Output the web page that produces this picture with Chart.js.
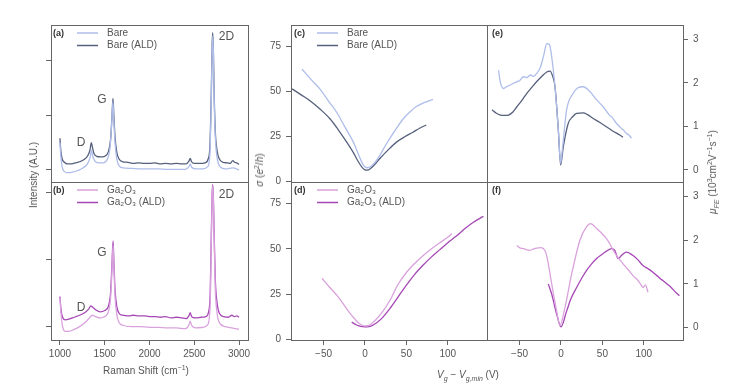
<!DOCTYPE html>
<html><head><meta charset="utf-8">
<script src="https://cdn.jsdelivr.net/npm/chart.js@4.4.1/dist/chart.umd.min.js"></script>
<style>
html,body{margin:0;padding:0;background:#fff;}
#wrap{position:relative;width:748px;height:386px;overflow:hidden;font-family:"Liberation Sans",Arial,sans-serif;color:#555;}
canvas{position:absolute;left:0;top:0;}
.lbl{position:absolute;font-size:10px;white-space:nowrap;color:#555;line-height:12px;}
.rot{transform:translate(-50%,-50%) rotate(-90deg);}
.ctr{transform:translate(-50%,-50%);}
sub,sup{font-size:7px;line-height:0;}
</style></head>
<body><div id="wrap">
<canvas id="pa" width="748" height="386"></canvas>
<canvas id="pb" width="748" height="386"></canvas>
<canvas id="pc" width="748" height="386"></canvas>
<canvas id="pd" width="748" height="386"></canvas>
<canvas id="pe" width="748" height="386"></canvas>
<canvas id="pf" width="748" height="386"></canvas>
<div class="lbl rot" style="left:34px;top:175px">Intensity (A.U.)</div>
<div class="lbl ctr" style="left:146px;top:371px">Raman Shift (cm<sup>−1</sup>)</div>
<div class="lbl rot" style="left:260px;top:170px"><i>σ</i> (<i>e</i><sup>2</sup>/<i>h</i>)</div>
<div class="lbl rot" style="left:713px;top:172px"><i>μ<sub>FE</sub></i> (10<sup>3</sup>cm<sup>2</sup>V<sup>−1</sup>s<sup>−1</sup>)</div>
<div class="lbl ctr" style="left:468px;top:375px"><i>V<sub>g</sub></i> − <i>V<sub>g,min</sub></i> (V)</div>
</div>
<script>
// ---------- tick labels ----------
const ramanTicks = [1000, 1500, 2000, 2500, 3000];
const intensityTicks = [0, 1, 2];
const vgTicks = [-50, 0, 50, 100];
const sigmaTicks = [0, 25, 50, 75];
const muTicks = [0, 1, 2, 3];

// ---------- series names ----------
const seriesBare = "Bare";
const seriesBareAld = "Bare (ALD)";
const seriesGa = "Ga₂O₃";
const seriesGaAld = "Ga₂O₃ (ALD)";

// ---------- (a) Raman, bare ----------
const bareShift = [1000,1010,1025,1050,1090,1140,1200,1260,1310,1340,1352,1365,1390,1430,1480,1530,1560,1578,1591,1602,1615,1635,1660,1700,1800,1900,2000,2100,2200,2300,2400,2440,2455,2470,2520,2600,2650,2675,2690,2700,2707,2714,2722,2735,2755,2780,2850,2930,3000];
const bareIntensity = [0.5,0.25,0.05,-0.03,-0.05,-0.04,-0.01,0.04,0.12,0.25,0.36,0.26,0.16,0.13,0.13,0.2,0.42,0.85,1.25,0.9,0.5,0.2,0.08,0.04,0.03,0.02,0.02,0.02,0.01,0.01,0.01,0.06,0.11,0.05,0.02,0.02,0.06,0.3,1.3,2.2,2.45,2.1,1.3,0.6,0.22,0.08,0.02,0.04,0.0];
const bareAldShift = [1000,1010,1025,1050,1080,1120,1170,1220,1270,1310,1335,1350,1362,1380,1410,1450,1500,1540,1565,1580,1592,1602,1615,1635,1660,1700,1760,1820,1880,1940,2000,2060,2120,2180,2240,2300,2360,2410,2440,2455,2470,2500,2560,2620,2655,2675,2690,2700,2706,2713,2722,2735,2755,2780,2820,2870,2900,2930,2950,2975,3000];
const bareAldIntensity = [0.58,0.35,0.2,0.14,0.11,0.11,0.13,0.15,0.19,0.26,0.36,0.5,0.42,0.3,0.25,0.24,0.25,0.33,0.55,0.95,1.31,1.0,0.6,0.32,0.2,0.15,0.14,0.12,0.13,0.12,0.12,0.13,0.11,0.12,0.11,0.12,0.11,0.11,0.16,0.21,0.15,0.12,0.12,0.13,0.2,0.45,1.4,2.3,2.51,2.2,1.4,0.7,0.35,0.2,0.14,0.13,0.12,0.17,0.14,0.13,0.1];

// ---------- (b) Raman, Ga2O3 ----------
const gaShift = [1000,1012,1030,1060,1100,1160,1220,1280,1330,1360,1400,1450,1500,1540,1565,1580,1593,1603,1615,1635,1660,1700,1800,1900,2000,2100,2200,2300,2400,2440,2455,2470,2520,2600,2650,2678,2692,2700,2707,2714,2722,2735,2755,2780,2850,2920,3000];
const gaIntensity = [0.43,0.2,0.0,-0.07,-0.07,-0.04,0.0,0.06,0.13,0.17,0.15,0.13,0.15,0.22,0.42,0.82,1.22,0.88,0.45,0.18,0.06,0.02,0.0,0.0,-0.01,-0.01,-0.02,-0.02,-0.03,0.02,0.08,0.02,-0.02,-0.01,0.03,0.35,1.4,1.95,2.1,1.85,1.3,0.55,0.2,0.06,0.0,-0.02,-0.04];
const gaAldShift = [1000,1012,1030,1060,1100,1160,1220,1280,1320,1345,1365,1400,1450,1500,1540,1565,1580,1593,1603,1615,1635,1660,1700,1760,1820,1880,1940,2000,2060,2120,2180,2240,2300,2360,2410,2440,2455,2470,2510,2580,2630,2660,2678,2692,2700,2707,2714,2722,2735,2755,2780,2830,2880,2920,2950,2975,3000];
const gaAldIntensity = [0.45,0.25,0.14,0.1,0.11,0.14,0.17,0.21,0.26,0.31,0.29,0.25,0.22,0.24,0.3,0.5,0.9,1.28,0.95,0.55,0.3,0.2,0.17,0.16,0.17,0.16,0.16,0.15,0.15,0.14,0.15,0.13,0.14,0.13,0.12,0.16,0.21,0.15,0.13,0.14,0.15,0.22,0.5,1.5,2.0,2.12,1.9,1.4,0.7,0.35,0.2,0.15,0.14,0.17,0.15,0.16,0.14];

// ---------- (c) conductivity, bare ----------
const bareSigmaVg = [-76,-66,-54,-44,-34,-24,-14,-7,-2,2.8,7,12,18,26,36,46,55,62,72,82];
const bareSigma = [62.2,57,51,44.5,38.2,30,21.8,14,9.1,7.6,8.3,10.5,14.5,20.9,28,34.6,38.8,41.5,43.8,45.5];
const bareAldSigmaVg = [-88,-77,-66,-54,-42,-32,-22,-14,-8,-3,0,3,6,12,18,28,38,48,58,66,74];
const bareAldSigma = [51.3,48,44.6,40,34.6,28.5,21.8,16,10.9,7.5,6.4,6.3,6.9,9.5,12.7,17.5,21.8,24.8,27.3,29.5,31.3];

// ---------- (d) conductivity, Ga2O3 ----------
const gaSigmaVg = [-52,-43,-34,-26,-18,-12,-8,-4,0,5,10,20,30,40,50,60,70,80,90,100,105];
const gaSigma = [33.8,29,24.5,19.5,14.4,11.2,9.2,8,7.5,7.8,9.5,14.5,21.5,30.5,37,42,46.3,50,53.3,56.5,58.5];
const gaAldSigmaVg = [-16,-10,-5,0,5,10,20,30,40,50,60,70,80,90,100,110,120,130,143];
const gaAldSigma = [9.6,8,7.2,7,7.1,8,11.5,17,23.5,30,36,41,45.5,49.5,53.5,57,61,64.5,68];

// ---------- (e) mobility, bare ----------
const bareMuVg = [-75.4,-73,-69.3,-65,-61,-57.3,-53,-50,-45.3,-41,-37.3,-33,-29.2,-25,-21,-17.2,-14,-11.2,-7.2,-3.2,-0.4,2,6.8,14.8,20,26.8,34.9,42,50.9,58,62,66.9,72,75,78.9,82,85];
const bareMu = [2.29,2.0,1.87,1.92,1.95,1.99,2.03,2.05,2.14,2.12,2.18,2.15,2.22,2.35,2.62,2.9,2.88,2.6,1.91,0.92,0.15,0.53,1.38,1.76,1.88,1.91,1.8,1.63,1.45,1.27,1.2,1.07,0.97,0.92,0.84,0.8,0.73];
const bareAldMuVg = [-83.3,-78,-73.3,-68,-63.3,-58,-53.2,-47,-41.2,-35,-29.2,-23,-17.2,-13.2,-10,-7.2,-3.2,-0.4,2.8,8.8,14,18.9,26.8,32,38.8,46,54.9,62,70.9,74.9];
const bareAldMu = [1.38,1.3,1.26,1.25,1.26,1.33,1.45,1.6,1.76,1.9,2.03,2.15,2.25,2.27,2.15,1.91,0.92,0.11,0.53,1.07,1.22,1.3,1.31,1.27,1.18,1.1,0.99,0.9,0.8,0.75];

// ---------- (f) mobility, Ga2O3 ----------
const gaMuVg = [-53.4,-49,-45.4,-41,-37.3,-33,-29.3,-25,-21.3,-18,-15.3,-11.2,-6,-1.2,4.8,12.9,22.9,30.9,35.7,43,48,53,58,63,69,75,81,87,93,96,99,102,105];
const gaMu = [1.88,1.82,1.81,1.78,1.77,1.8,1.82,1.83,1.81,1.7,1.46,1.0,0.46,0.06,0.46,1.23,2.0,2.31,2.38,2.27,2.18,2.08,1.95,1.77,1.6,1.46,1.33,1.19,1.08,1.0,0.92,0.98,0.81];
const gaAldMuVg = [-15.3,-11.2,-5.2,0,6.8,12,18.9,25,30.9,37,43,49,55,61,65,69,73,79,83,87,93,99,105,111,117,120,123,128,133,138,143];
const gaAldMu = [1.0,0.77,0.31,0.02,0.38,0.66,0.92,1.13,1.31,1.46,1.58,1.67,1.75,1.81,1.77,1.58,1.65,1.73,1.7,1.65,1.55,1.42,1.35,1.27,1.17,1.12,1.08,1.0,0.92,0.82,0.73];

// ---------- rendering ----------
const W = 748, H = 386;
const AXIS = '#666', TXT = '#555';
const FONT = '"Liberation Sans", Arial, sans-serif';
const COL = {bare:'#aebdea', bareAld:'#56607c', ga:'#d9a2dd', gaAld:'#a547b5'};
const pts = (xs, ys) => xs.map((x, i) => ({x, y: ys[i]}));
const fmt = v => v < 0 ? '−' + Math.abs(v) : String(v);
const ds = (label, xs, ys, color) => ({label, data: pts(xs, ys), borderColor: color, backgroundColor: color,
  borderWidth: 1.3, pointRadius: 0, fill: false, cubicInterpolationMode: 'monotone'});

const panelDeco = {
  id: 'panelDeco',
  afterDatasetsDraw(chart, args, o) {
    const {ctx, chartArea: a} = chart;
    ctx.save();
    const l = Math.round(a.left), t = Math.round(a.top), r = Math.round(a.right), b = Math.round(a.bottom);
    ctx.strokeStyle = AXIS; ctx.lineWidth = 1;
    ctx.strokeRect(l + 0.5, t + 0.5, r - l, b - t);
    // panel tag
    ctx.fillStyle = '#333'; ctx.font = 'bold 9px ' + FONT;
    ctx.textBaseline = 'middle'; ctx.textAlign = 'left';
    ctx.fillText(o.tag, l + (o.tagDx || 3), t + 9);
    // legend
    if (o.legend) {
      ctx.font = '10px ' + FONT;
      chart.data.datasets.forEach((d, i) => {
        const y = t + 8 + i * 12.5;
        ctx.strokeStyle = d.borderColor; ctx.lineWidth = 1.5;
        ctx.beginPath(); ctx.moveTo(l + 26, y); ctx.lineTo(l + 47, y); ctx.stroke();
        ctx.fillStyle = TXT; ctx.fillText(d.label, l + 56, y);
      });
    }
    // peak notes
    if (o.notes) {
      ctx.font = '12px ' + FONT; ctx.fillStyle = TXT; ctx.textAlign = 'center';
      o.notes.forEach(n => ctx.fillText(n.text, chart.scales.x.getPixelForValue(n.x), chart.scales.y.getPixelForValue(n.y)));
    }
    ctx.restore();
  }
};

function makePanel(id, c) {
  const yLeft = c.yPos === 'left';
  const xH = c.xShow ? 30 : 0;
  const [L, T, R, B] = c.area;
  const padding = {
    left: yLeft ? L - c.yW : L,
    right: yLeft ? W - R : W - R - c.yW,
    top: T,
    bottom: H - B - xH
  };
  const tickFont = {family: FONT, size: 10};
  new Chart(document.getElementById(id), {
    type: 'line',
    data: {datasets: c.datasets},
    options: {
      responsive: false, animation: false, devicePixelRatio: 1,
      layout: {padding},
      plugins: {legend: {display: false}, tooltip: {enabled: false},
        panelDeco: {tag: c.tag, legend: c.legend, notes: c.notes, tagDx: c.tagDx}},
      scales: {
        x: {type: 'linear', position: 'bottom', min: c.xRange[0], max: c.xRange[1], display: c.xShow,
          afterBuildTicks: s => { s.ticks = c.xTicks.map(v => ({value: v})); },
          afterFit: s => { s.height = xH; },
          grid: {display: true, drawOnChartArea: false, drawTicks: true, tickLength: 5, color: AXIS},
          border: {display: true, color: AXIS},
          ticks: {font: tickFont, color: TXT, padding: 3, maxRotation: 0, autoSkip: false, callback: v => fmt(v)}},
        y: {type: 'linear', position: c.yPos, min: c.yRange[0], max: c.yRange[1],
          afterBuildTicks: s => { s.ticks = c.yTicks.map(v => ({value: v})); },
          afterFit: s => { s.width = c.yW; },
          grid: {display: true, drawOnChartArea: false, drawTicks: true, tickLength: 5, color: AXIS},
          border: {display: true, color: AXIS},
          ticks: {font: tickFont, color: TXT, padding: c.yLabels ? 5 : 0, autoSkip: false,
            callback: v => c.yLabels ? fmt(v) : ''}}
      }
    },
    plugins: [panelDeco]
  });
}

const ramanRange = [900, 3100];
const vgRange = [-89.3, 147.3];
const muRange = [-0.28, 3.33];

makePanel('pa', {area: [51, 25, 248, 182], yPos: 'left', yW: 10, xShow: false, xRange: ramanRange, xTicks: ramanTicks,
  yRange: [-0.22, 2.65], yTicks: intensityTicks, yLabels: false, tag: '(a)', tagDx: 2, legend: true,
  notes: [{text: 'D', x: 1235, y: 0.49}, {text: 'G', x: 1469, y: 1.28}, {text: '2D', x: 2860, y: 2.43}],
  datasets: [ds(seriesBare, bareShift, bareIntensity, COL.bare), ds(seriesBareAld, bareAldShift, bareAldIntensity, COL.bareAld)]});

makePanel('pb', {area: [51, 182, 248, 340], yPos: 'left', yW: 10, xShow: true, xRange: ramanRange, xTicks: ramanTicks,
  yRange: [-0.2, 2.16], yTicks: intensityTicks, yLabels: false, tag: '(b)', tagDx: 2, legend: true,
  notes: [{text: 'D', x: 1235, y: 0.29}, {text: 'G', x: 1469, y: 1.11}, {text: '2D', x: 2860, y: 1.97}],
  datasets: [ds(seriesGa, gaShift, gaIntensity, COL.ga), ds(seriesGaAld, gaAldShift, gaAldIntensity, COL.gaAld)]});

makePanel('pc', {area: [291, 25, 487, 182], yPos: 'left', yW: 35, xShow: false, xRange: vgRange, xTicks: vgTicks,
  yRange: [-0.3, 86.7], yTicks: sigmaTicks, yLabels: true, tag: '(c)', legend: true,
  datasets: [ds(seriesBare, bareSigmaVg, bareSigma, COL.bare), ds(seriesBareAld, bareAldSigmaVg, bareAldSigma, COL.bareAld)]});

makePanel('pd', {area: [291, 182, 487, 340], yPos: 'left', yW: 35, xShow: true, xRange: vgRange, xTicks: vgTicks,
  yRange: [-0.3, 87], yTicks: sigmaTicks, yLabels: true, tag: '(d)', legend: true,
  datasets: [ds(seriesGa, gaSigmaVg, gaSigma, COL.ga), ds(seriesGaAld, gaAldSigmaVg, gaAldSigma, COL.gaAld)]});

makePanel('pe', {area: [487, 25, 683, 182], yPos: 'right', yW: 30, xShow: false, xRange: vgRange, xTicks: vgTicks,
  yRange: muRange, yTicks: muTicks, yLabels: true, tag: '(e)', tagDx: 5, legend: false,
  datasets: [ds(seriesBare, bareMuVg, bareMu, COL.bare), ds(seriesBareAld, bareAldMuVg, bareAldMu, COL.bareAld)]});

makePanel('pf', {area: [487, 182, 683, 340], yPos: 'right', yW: 30, xShow: true, xRange: vgRange, xTicks: vgTicks,
  yRange: muRange, yTicks: muTicks, yLabels: true, tag: '(f)', tagDx: 5, legend: false,
  datasets: [ds(seriesGa, gaMuVg, gaMu, COL.ga), ds(seriesGaAld, gaAldMuVg, gaAldMu, COL.gaAld)]});
</script>
</body></html>
